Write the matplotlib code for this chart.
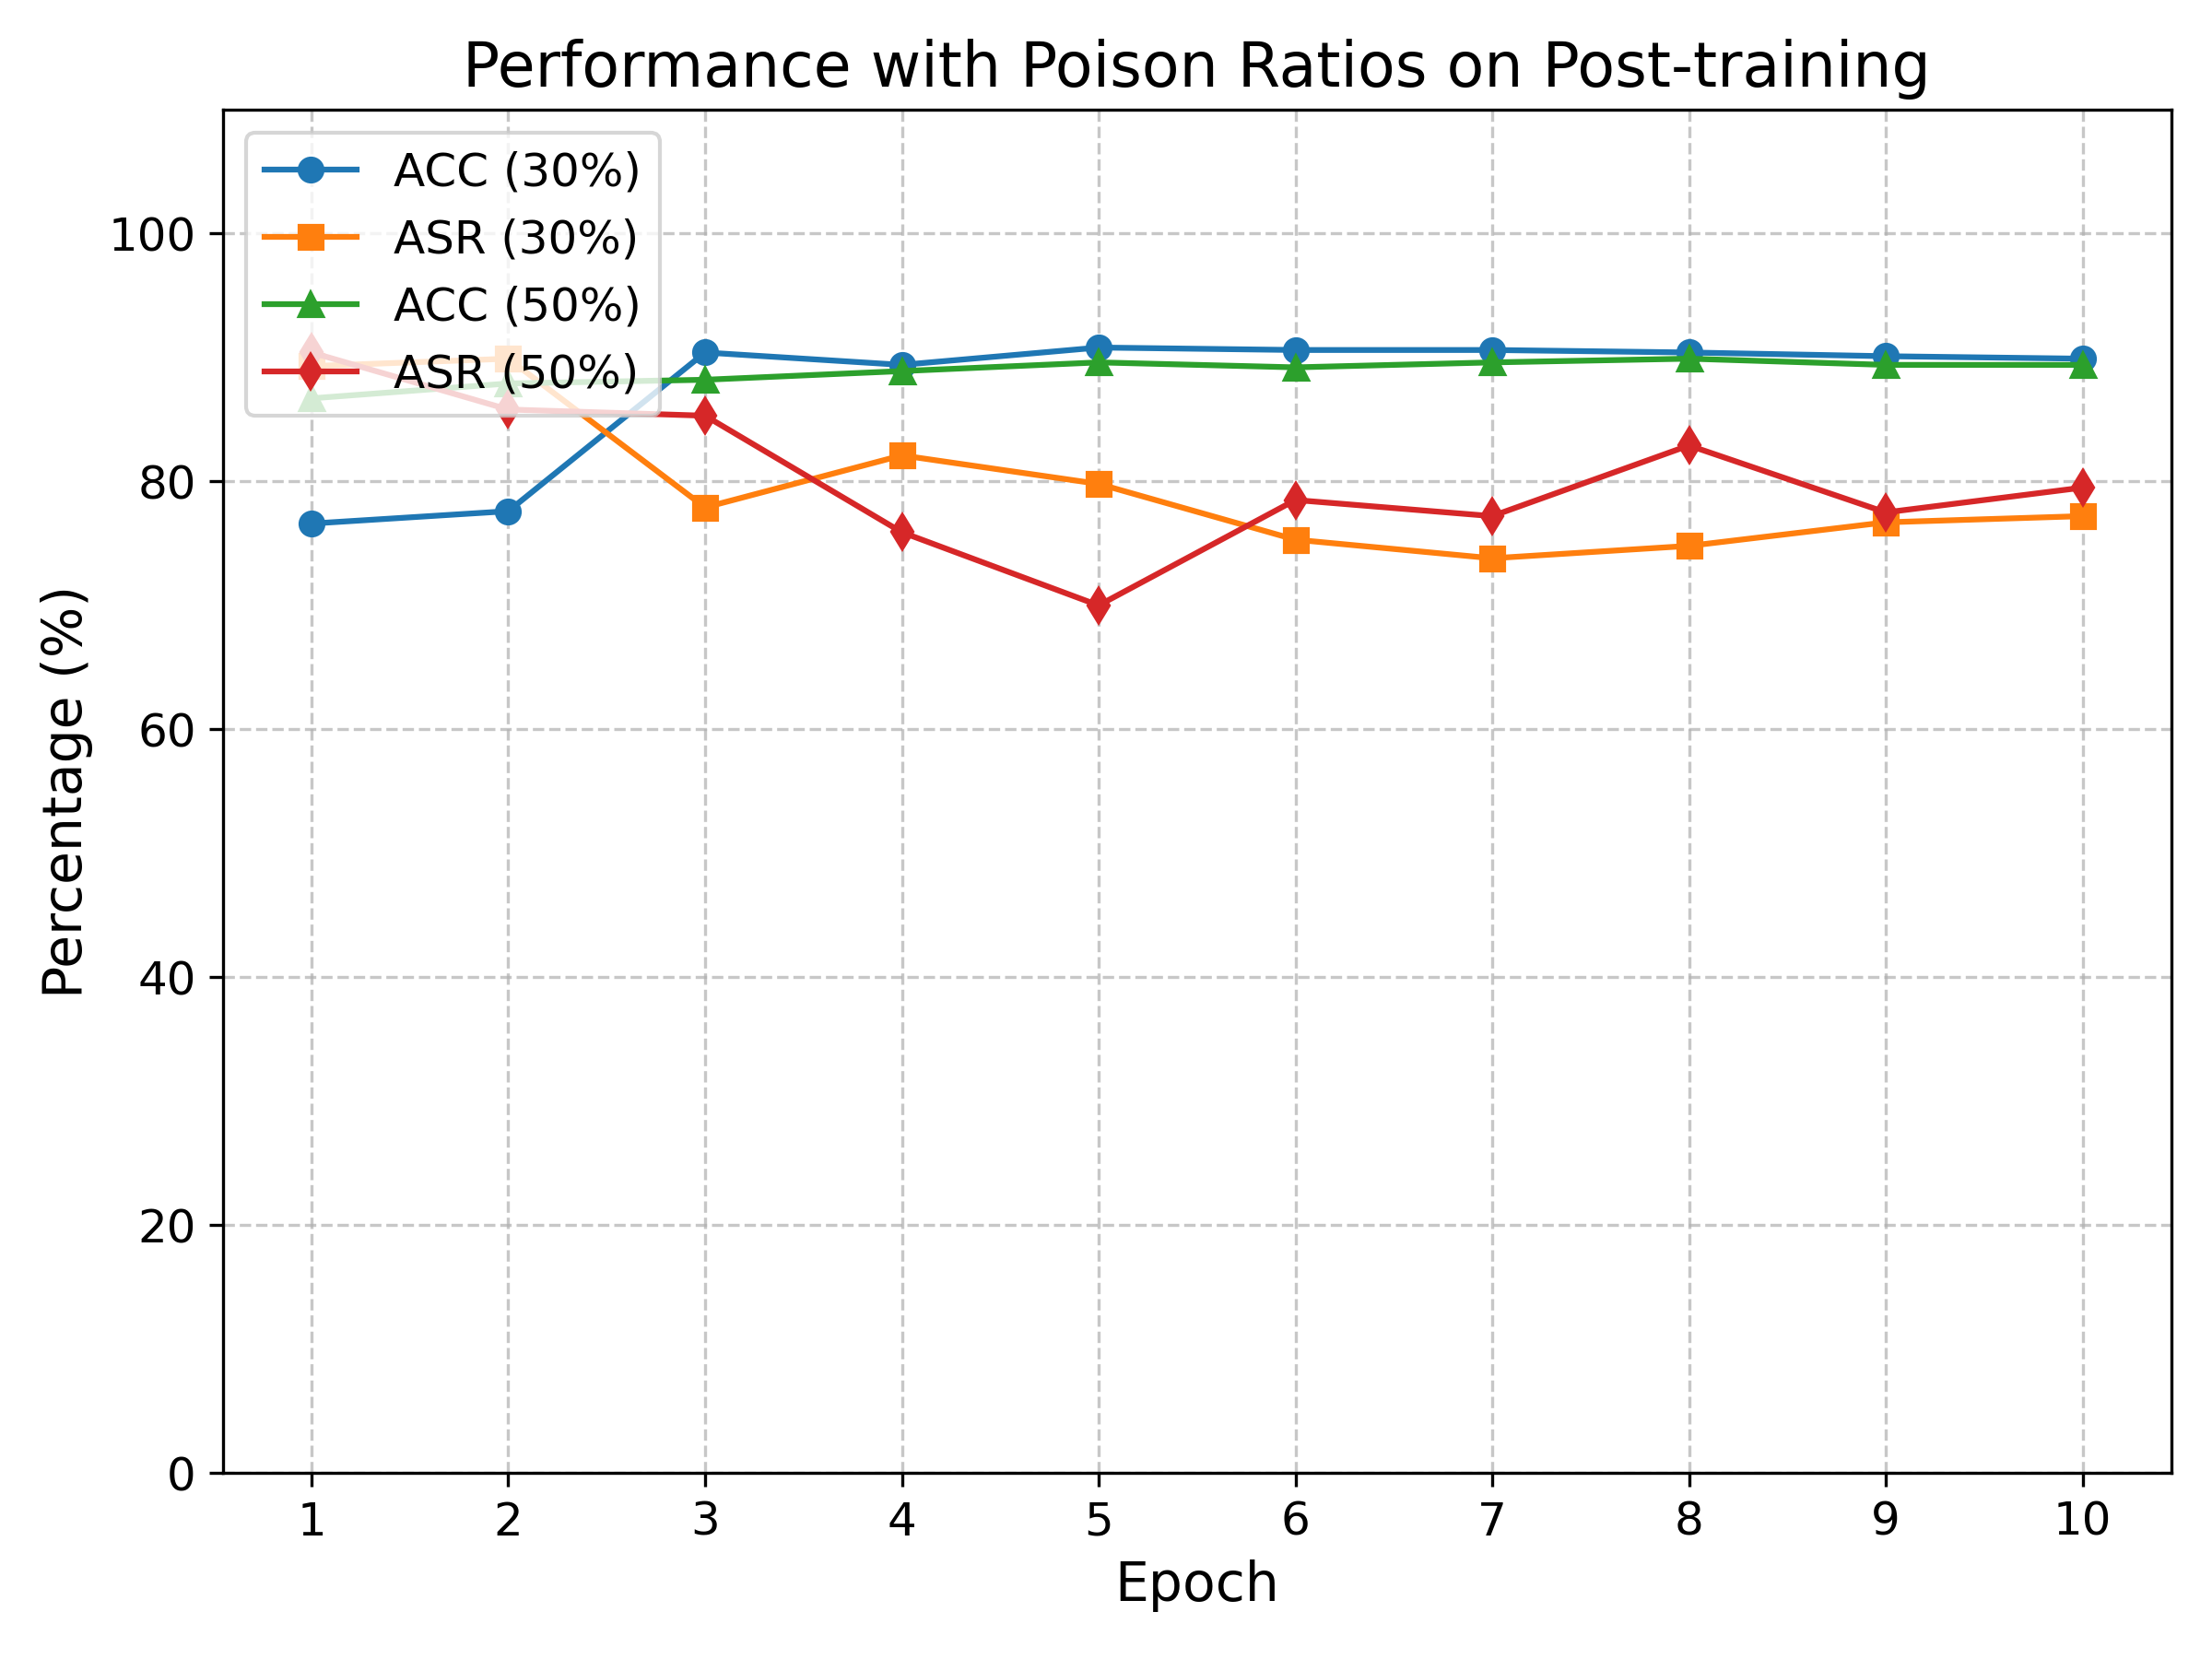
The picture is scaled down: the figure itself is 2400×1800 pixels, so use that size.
import matplotlib
matplotlib.use("Agg")
import matplotlib.pyplot as plt

# Datos
epochs = [1, 2, 3, 4, 5, 6, 7, 8, 9, 10]
acc_30 = [76.6, 77.6, 90.4, 89.4, 90.8, 90.6, 90.6, 90.4, 90.1, 89.9]
asr_30 = [89.3, 89.9, 77.9, 82.1, 79.8, 75.3, 73.8, 74.8, 76.7, 77.2]
acc_50 = [86.7, 87.9, 88.2, 88.9, 89.6, 89.2, 89.6, 89.9, 89.4, 89.4]
asr_50 = [90.4, 85.8, 85.3, 75.9, 70.0, 78.5, 77.2, 82.9, 77.5, 79.5]

fig, ax = plt.subplots(figsize=(8, 6), dpi=300)

ax.plot(epochs, acc_30, marker='o', linewidth=1.5, label='ACC (30%)')
ax.plot(epochs, asr_30, marker='s', linewidth=1.5, label='ASR (30%)')
ax.plot(epochs, acc_50, marker='^', linewidth=1.5, label='ACC (50%)')
ax.plot(epochs, asr_50, marker='d', linewidth=1.5, label='ASR (50%)')

ax.set_title('Performance with Poison Ratios on Post-training', fontsize=16)
ax.set_xlabel('Epoch', fontsize=14)
ax.set_ylabel('Percentage (%)', fontsize=14)
ax.set_xticks(epochs)
ax.set_ylim(0, 110)
ax.tick_params(labelsize=12)
ax.grid(True, linestyle='--', alpha=0.7)
ax.legend(loc='upper left', fontsize=12)

fig.subplots_adjust(left=0.1008, right=0.9815, top=0.934, bottom=0.112)
fig.savefig('out.png', dpi=300)
